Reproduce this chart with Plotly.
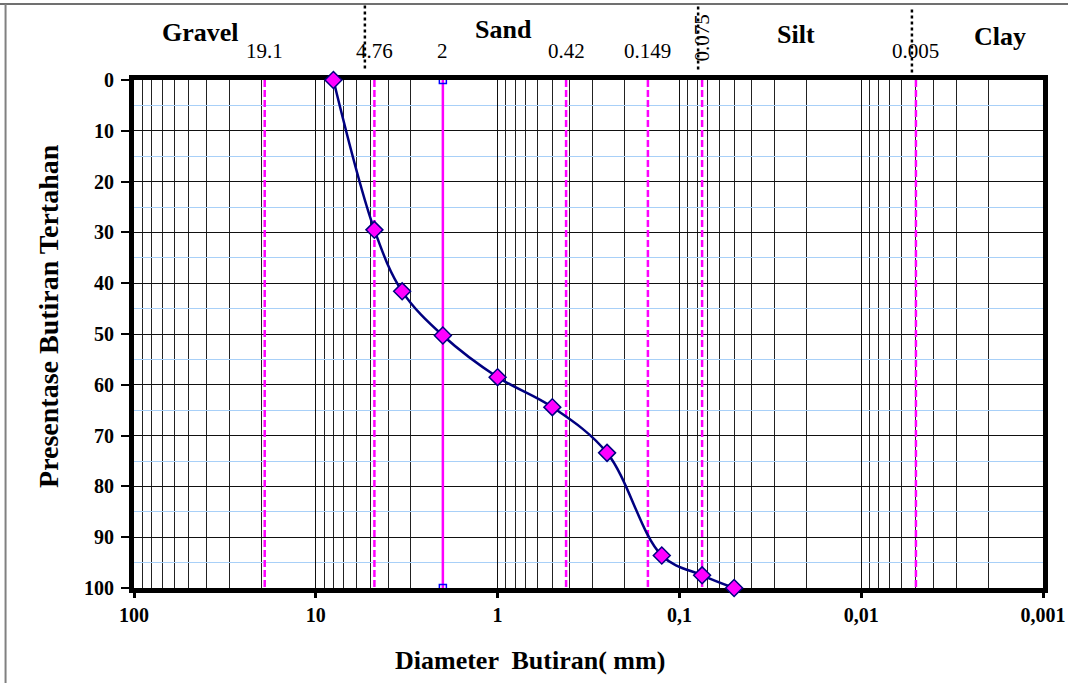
import math
import plotly.graph_objects as go

# ---- data ----
diameter_mm = [8.0, 4.76, 3.35, 2.0, 1.0, 0.5, 0.25, 0.125, 0.075, 0.05]
percent_retained = [0, 29.5, 41.6, 50.3, 58.5, 64.4, 73.4, 93.6, 97.5, 100]

boundary_values = [19.1, 4.76, 2, 0.42, 0.149, 0.075, 0.005]
boundary_labels = ["19.1", "4.76", "2", "0.42", "0.149", "0.075", "0.005"]
boundary_solid = [False, False, True, False, False, False, False]

soil_classes = ["Gravel", "Sand", "Silt", "Clay"]
soil_class_x = [43, 0.93, 0.0228, 0.00173]

x_major_ticks = [100, 10, 1, 0.1, 0.01, 0.001]
x_major_text = ["100", "10", "1", "0,1", "0,01", "0,001"]
y_ticks = list(range(0, 101, 10))

FONT = "Liberation Serif"
NAVY = "#000080"
MAG = "#FF00FF"

fig = go.Figure()

# vertical boundary lines
for v, solid in zip(boundary_values, boundary_solid):
    fig.add_trace(go.Scatter(
        x=[v, v], y=[0, 100], mode="lines+markers" if solid else "lines",
        line=dict(color=MAG, width=2.5, dash="solid" if solid else "7px,3px"),
        marker=dict(symbol="square-open", size=7, color="#0000FF", line=dict(width=1.5)),
        hoverinfo="skip", showlegend=False))

# grading curve
fig.add_trace(go.Scatter(
    x=diameter_mm, y=percent_retained, mode="lines+markers",
    line=dict(color=NAVY, width=2.5, shape="spline", smoothing=1.0),
    marker=dict(symbol="diamond", size=13, color=MAG, line=dict(color=NAVY, width=1.5)),
    cliponaxis=False, showlegend=False))

minor_x = [k * 10 ** d for d in range(-3, 2) for k in range(2, 10)]

fig.update_xaxes(
    type="log", range=[2, -3],
    tickvals=x_major_ticks, ticktext=x_major_text,
    ticks="outside", ticklen=5, tickwidth=3, tickcolor="black",
    showgrid=True, gridcolor="#111111", gridwidth=1,
    minor=dict(tickvals=minor_x, showgrid=True, gridcolor="#222222", gridwidth=1, ticks=""),
    showline=True, linecolor="black", linewidth=5, mirror=True,
    tickfont=dict(family=FONT, size=20, color="black", weight="bold"),
    zeroline=False, layer="below traces", automargin=False, ticklabeloverflow="allow",
)
fig.update_yaxes(
    range=[100, 0], tickvals=y_ticks,
    ticks="outside", ticklen=8, tickwidth=1.5, tickcolor="black",
    showgrid=True, gridcolor="#111111", gridwidth=1,
    minor=dict(dtick=5, tick0=0, showgrid=True, gridcolor="#A8D0F8", gridwidth=1, ticks=""),
    showline=True, linecolor="black", linewidth=5, mirror=True,
    tickfont=dict(family=FONT, size=20, color="black", weight="bold"),
    zeroline=False, ticklabelstandoff=3, layer="below traces", automargin=False,
)

ann = []
# boundary value labels
for v, lab in zip(boundary_values, boundary_labels):
    if lab == "0.075":
        ann.append(dict(x=math.log10(v), y=1.082, xref="x", yref="paper", text=lab,
                        textangle=-90, showarrow=False, xanchor="center", yanchor="middle",
                        font=dict(family=FONT, size=21, color="black")))
    else:
        ann.append(dict(x=math.log10(v), y=1.058, xref="x", yref="paper", text=lab,
                        showarrow=False, xanchor="center", yanchor="middle",
                        font=dict(family=FONT, size=21, color="black")))
# soil class names
class_y = [1.094, 1.099, 1.09, 1.085]
for name, xv, yv in zip(soil_classes, soil_class_x, class_y):
    ann.append(dict(x=math.log10(xv), y=yv, xref="x", yref="paper", text=name,
                    showarrow=False, xanchor="center", yanchor="middle",
                    font=dict(family=FONT, size=26, color="black", weight="bold")))
# axis titles
ann.append(dict(x=0.436, y=-0.1425, xref="paper", yref="paper", text="Diameter  Butiran( mm)",
                showarrow=False, xanchor="center", yanchor="middle",
                font=dict(family=FONT, size=26, color="black", weight="bold")))
ann.append(dict(x=-0.094, y=0.5346, xref="paper", yref="paper", text="Presentase Butiran Tertahan",
                showarrow=False, xanchor="center", yanchor="middle", textangle=-90,
                font=dict(family=FONT, size=28, color="black", weight="bold")))

shapes = []
# dotted separators above the plot
for xp, y0, y1 in [(0.254, 1.0228, 1.1508), (0.6206, 1.0208, 1.1468), (0.8558, 1.015, 1.143)]:
    shapes.append(dict(type="line", xref="paper", yref="paper", x0=xp, x1=xp, y0=y0, y1=y1,
                       line=dict(color="black", width=2.5, dash="dot")))
# outer border (top and left)
shapes.append(dict(type="line", xref="paper", yref="paper", x0=-0.16, x1=1.04, y0=1.1498, y1=1.1498,
                   line=dict(color="#404040", width=1.5)))
shapes.append(dict(type="line", xref="paper", yref="paper", x0=-0.1413, x1=-0.1413, y0=-0.2, y1=1.1498,
                   line=dict(color="#808080", width=2)))

fig.update_layout(
    width=1068, height=683,
    margin=dict(l=134, r=25, t=80, b=95),
    paper_bgcolor="white", plot_bgcolor="white",
    annotations=ann, shapes=shapes,
    font=dict(family=FONT, color="black"),
)

fig.write_html("out.html", config={"displayModeBar": False},
               post_script="document.body.style.margin='0';document.body.style.overflow='hidden';")
